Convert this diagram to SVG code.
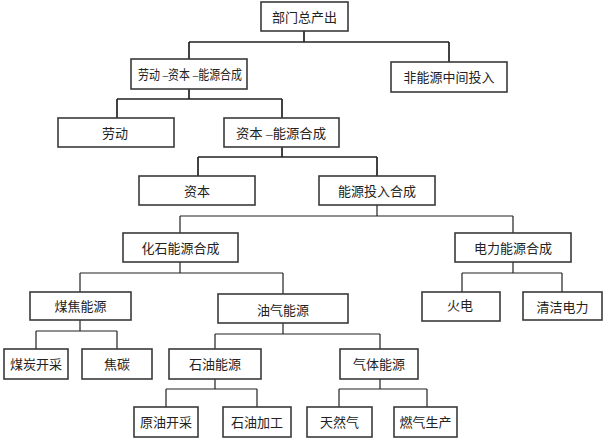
<svg xmlns="http://www.w3.org/2000/svg" width="604" height="438" viewBox="0 0 604 438">
<style>
.b{fill:#fff;stroke:#3a3a3a;stroke-width:1.6}
.t{font-family:"Liberation Serif","Noto Sans CJK SC",serif;font-size:13px;fill:#222;text-anchor:middle;dominant-baseline:central}
.c{fill:none;stroke:#222;stroke-width:1.2}
.c2{fill:none;stroke:#222;stroke-width:1.7}
</style>
<rect width="604" height="438" fill="#fff"/>
<g id="connectors">
<path class="c2" d="M304 31V42M189 42H449M189 42V59M449 42V62"/>
<path class="c2" d="M189 89V99M117 99H282M117 99V118M282 99V118"/>
<path class="c2" d="M282 147V157M198 157H377M198 157V176M377 157V176"/>
<path class="c" d="M377 205V216M180 216H513M180 216V233M513 216V233"/>
<path class="c" d="M180 262V273M80 273H283M80 273V292M283 273V294"/>
<path class="c" d="M513 262V273M462 273H562M462 273V292M562 273V292"/>
<path class="c" d="M80 320V331M36 331H117M36 331V349M117 331V349"/>
<path class="c" d="M283 323V334M215 334H380M215 334V349M380 334V349"/>
<path class="c" d="M215 379V389M166 389H257M166 389V407M257 389V407"/>
<path class="c" d="M380 379V389M339 389H427M339 389V407M427 389V407"/>
</g>
<g id="n1"><rect class="b" x="261" y="2" width="87" height="29"/><text class="t" x="304.5" y="17">部门总产出</text></g>
<g id="n2"><rect class="b" x="131" y="59" width="116" height="30"/><text class="t" x="190" y="74" textLength="104" lengthAdjust="spacingAndGlyphs">劳动 –资本 –能源合成</text></g>
<g id="n3"><rect class="b" x="391" y="62" width="116" height="30"/><text class="t" x="449" y="77">非能源中间投入</text></g>
<g id="n4"><rect class="b" x="58" y="118" width="116" height="29"/><text class="t" x="115" y="133">劳动</text></g>
<g id="n5"><rect class="b" x="224" y="118" width="115" height="29"/><text class="t" x="281" y="133" textLength="90" lengthAdjust="spacingAndGlyphs">资本 –能源合成</text></g>
<g id="n6"><rect class="b" x="139" y="176" width="116" height="29"/><text class="t" x="197" y="191">资本</text></g>
<g id="n7"><rect class="b" x="319" y="176" width="116" height="29"/><text class="t" x="377" y="191">能源投入合成</text></g>
<g id="n8"><rect class="b" x="123" y="233" width="115" height="29"/><text class="t" x="180.5" y="248">化石能源合成</text></g>
<g id="n9"><rect class="b" x="455" y="233" width="116" height="29"/><text class="t" x="513" y="248">电力能源合成</text></g>
<g id="n10"><rect class="b" x="30" y="292" width="101" height="28"/><text class="t" x="80.5" y="306">煤焦能源</text></g>
<g id="n11"><rect class="b" x="218" y="294" width="130" height="29"/><text class="t" x="283" y="310">油气能源</text></g>
<g id="n12"><rect class="b" x="422" y="292" width="78" height="29"/><text class="t" x="460" y="305">火电</text></g>
<g id="n13"><rect class="b" x="523" y="292" width="79" height="28"/><text class="t" x="562.5" y="307">清洁电力</text></g>
<g id="n14"><rect class="b" x="4" y="349" width="64" height="30"/><text class="t" x="36" y="364">煤炭开采</text></g>
<g id="n15"><rect class="b" x="82" y="349" width="70" height="30"/><text class="t" x="117" y="364">焦碳</text></g>
<g id="n16"><rect class="b" x="169" y="349" width="92" height="30"/><text class="t" x="215" y="364">石油能源</text></g>
<g id="n17"><rect class="b" x="340" y="349" width="78" height="30"/><text class="t" x="379" y="364">气体能源</text></g>
<g id="n18"><rect class="b" x="134" y="407" width="64" height="30"/><text class="t" x="166" y="422">原油开采</text></g>
<g id="n19"><rect class="b" x="223" y="407" width="68" height="30"/><text class="t" x="257" y="422">石油加工</text></g>
<g id="n20"><rect class="b" x="307" y="407" width="65" height="30"/><text class="t" x="339.5" y="422">天然气</text></g>
<g id="n21"><rect class="b" x="394" y="407" width="63" height="30"/><text class="t" x="425.5" y="422">燃气生产</text></g>
</svg>
